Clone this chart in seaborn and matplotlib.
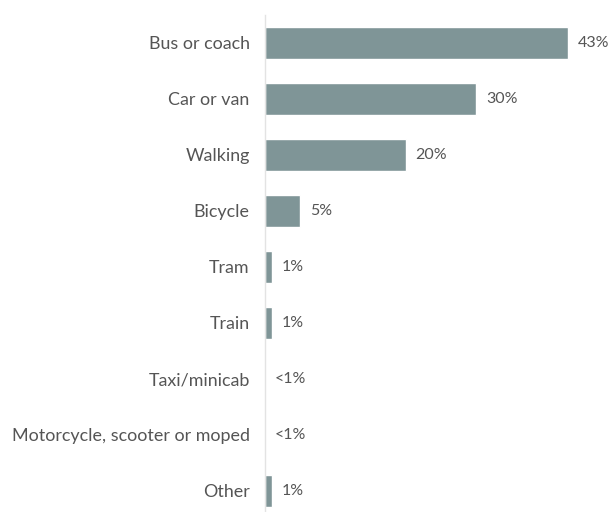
import pandas as pd
import numpy as np
import seaborn as sns
import matplotlib.pyplot as plt

# share of journeys by main mode
modes = ["Bus or coach", "Car or van", "Walking", "Bicycle", "Tram", "Train",
         "Taxi/minicab", "Motorcycle, scooter or moped", "Other"]
share = [43, 30, 20, 5, 1, 1, 0, 0, 1]
share_labels = ["43%", "30%", "20%", "5%", "1%", "1%", "<1%", "<1%", "1%"]

df = pd.DataFrame({"mode": modes, "share": share})

sns.set_style("white")
plt.rcParams["font.family"] = ["Lato", "DejaVu Sans"]

fig = plt.figure(figsize=(6.11, 5.12), dpi=100)
ax = fig.add_axes([265 / 611, 0.0, 338 / 611, 497 / 512])

sns.barplot(data=df, x="share", y="mode", orient="h", color="#7f9597",
            width=0.58, saturation=1, ax=ax)

ax.bar_label(ax.containers[0], labels=share_labels, padding=7,
             fontsize=11.5, color="#555555")

ax.set_xlim(0, 48)
ax.set_ylim(8.375, -0.5)
ax.set_xlabel("")
ax.set_ylabel("")
ax.set_xticks([])
ax.tick_params(axis="y", length=0, pad=11, labelsize=12.9, labelcolor="#555555")

for s in ["top", "right", "bottom"]:
    ax.spines[s].set_visible(False)
ax.spines["left"].set_color("#e3e3e3")
ax.spines["left"].set_linewidth(1)

fig.savefig("out.png", dpi=100)
